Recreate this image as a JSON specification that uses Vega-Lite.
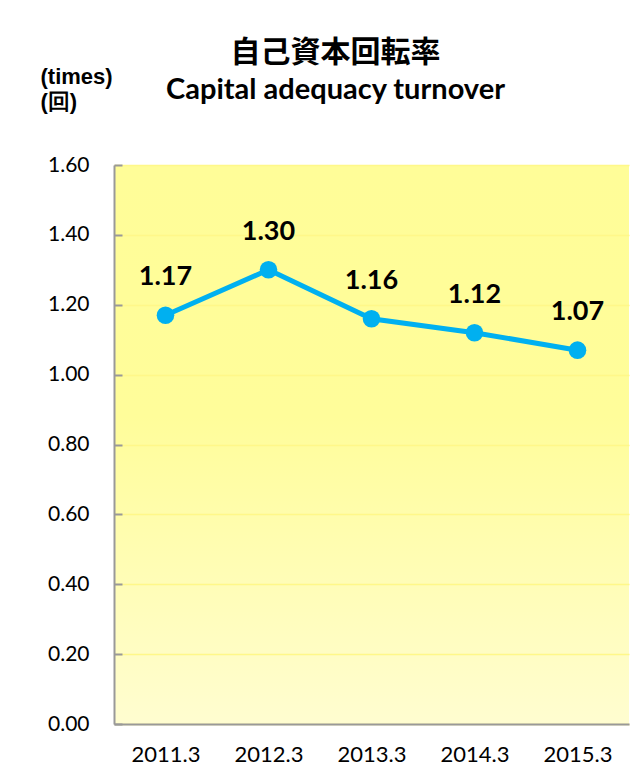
{
  "$schema": "https://vega.github.io/schema/vega-lite/v6.json",
  "width": 515,
  "height": 559,
  "autosize": {"type": "none"},
  "padding": {"left": 114, "top": 165, "right": 5, "bottom": 50},
  "background": "white",
  "title": {
    "text": "自己資本回転率",
    "subtitle": "Capital adequacy turnover",
    "anchor": "middle",
    "frame": "group",
    "dx": -36,
    "offset": -40,
    "font": "Noto Sans CJK JP",
    "fontSize": 30,
    "fontWeight": "bold",
    "color": "black",
    "subtitleFont": "Lato",
    "subtitleFontSize": 29,
    "subtitleFontWeight": "bold",
    "subtitleColor": "black",
    "subtitlePadding": 8
  },
  "config": {
    "view": {
      "stroke": null,
      "fill": {
        "gradient": "linear",
        "x1": 0, "y1": 0, "x2": 0, "y2": 1,
        "stops": [
          {"offset": 0, "color": "#FFFD98"},
          {"offset": 0.45, "color": "#FFFD9A"},
          {"offset": 1, "color": "#FFFDD0"}
        ]
      }
    },
    "font": "Lato"
  },
  "data": {
    "values": [
      {"period": "2011.3", "value": 1.17},
      {"period": "2012.3", "value": 1.30},
      {"period": "2013.3", "value": 1.16},
      {"period": "2014.3", "value": 1.12},
      {"period": "2015.3", "value": 1.07}
    ]
  },
  "encoding": {
    "x": {
      "field": "period",
      "type": "ordinal",
      "sort": null,
      "scale": {"type": "point", "padding": 0.5},
      "axis": {
        "title": null,
        "labelAngle": 0,
        "labelFont": "Lato",
        "labelFontSize": 22,
        "labelColor": "black",
        "labelPadding": 20,
        "ticks": false,
        "domainColor": "#999999",
        "domainWidth": 2,
        "grid": false
      }
    },
    "y": {
      "field": "value",
      "type": "quantitative",
      "scale": {"domain": [0, 1.6], "nice": false, "zero": true},
      "axis": {
        "values": [0, 0.2, 0.4, 0.6, 0.8, 1.0, 1.2, 1.4, 1.6],
        "format": ".2f",
        "title": ["(times)", "(回)"],
        "titleAngle": 0,
        "titleAlign": "left",
        "titleBaseline": "top",
        "titleX": -74,
        "titleY": -99,
        "titleFont": "Liberation Sans",
        "titleFontSize": 22,
        "titleFontWeight": "bold",
        "titleColor": "black",
        "titleLineHeight": 25,
        "labelFont": "Lato",
        "labelFontSize": 21,
        "labelColor": "black",
        "labelPadding": 33,
        "tickSize": -8,
        "tickColor": "#999999",
        "tickWidth": 2,
        "domainColor": "#999999",
        "domainWidth": 2,
        "grid": true,
        "gridColor": "#FFF889",
        "gridWidth": 1.5
      }
    }
  },
  "layer": [
    {
      "mark": {"type": "line", "color": "#00B0F0", "strokeWidth": 5}
    },
    {
      "mark": {"type": "point", "shape": "circle", "filled": true, "opacity": 1, "color": "#00B0F0", "size": 310}
    },
    {
      "mark": {"type": "text", "dy": -38, "fontSize": 27, "fontWeight": "bold", "font": "Lato", "color": "black"},
      "encoding": {"text": {"field": "value", "type": "quantitative", "format": ".2f"}}
    }
  ]
}
